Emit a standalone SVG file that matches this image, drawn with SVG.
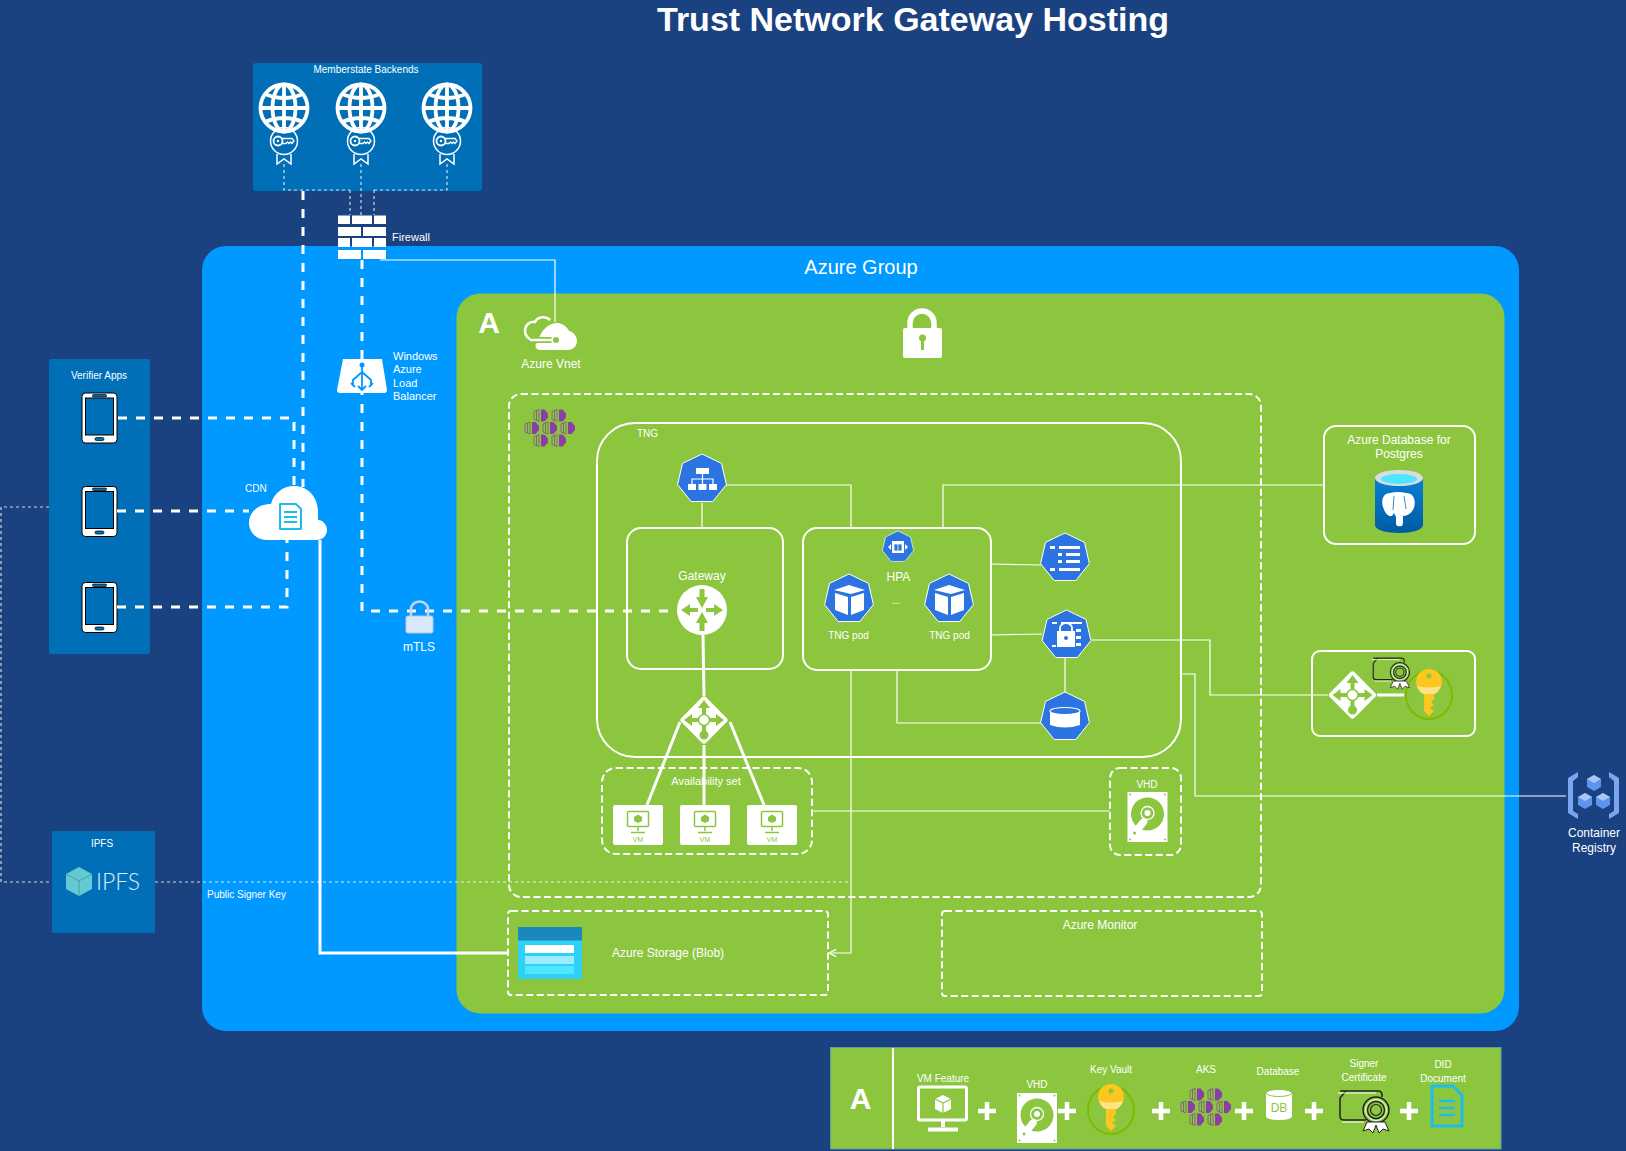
<svg xmlns="http://www.w3.org/2000/svg" xmlns:xlink="http://www.w3.org/1999/xlink" width="1626" height="1151" viewBox="0 0 1626 1151">
<style>
text{font-family:"Liberation Sans",Arial,sans-serif;fill:#fff}
.c{text-anchor:middle}
.s10{font-size:10px}.s11{font-size:11px}.s12{font-size:12px}
.box{fill:none;stroke:#fff;stroke-width:2}
.dash{fill:none;stroke:#fff;stroke-width:2;stroke-dasharray:7 3.5}
.thick{fill:none;stroke:#fff;stroke-width:3;stroke-dasharray:9 9}
.thin{fill:none;stroke:#fff;stroke-width:1.2}
.dot{fill:none;stroke:#fff;stroke-width:1.2;stroke-dasharray:3 3;stroke-opacity:.8}
.solid{fill:none;stroke:#fff;stroke-width:3}
.blue{fill:#006fb8}
.hexa{fill:#2b74e2;stroke:#fff;stroke-width:1}
.plus{fill:none;stroke:#fff;stroke-width:4.5}
</style>
<defs>
<marker id="open" markerWidth="8" markerHeight="8" refX="7" refY="4" orient="auto"><path d="M7 4L1 1M7 4L1 7" fill="none" stroke="#fff" stroke-width="1"/></marker>
<linearGradient id="pg" x1="0" y1="0" x2="0" y2="1"><stop offset="0" stop-color="#0a7fd6"/><stop offset="1" stop-color="#005ba1"/></linearGradient>
<polygon id="hep" class="hexa" points="0,-25 19.5,-15.6 24.4,5.6 10.8,22.5 -10.8,22.5 -24.4,5.6 -19.5,-15.6"/>
<g id="globe" fill="none" stroke="#fff" stroke-width="3.8">
<circle r="23.5"/><ellipse rx="11.5" ry="23.5"/><path d="M0-23.5V23.5M-23.5 0H23.5M-19-14Q0-6 19-14M-19 14Q0 6 19 14"/>
</g>
<g id="badge" fill="none" stroke="#fff" stroke-width="1.5">
<circle r="13.5"/><path d="M-7 13V23L0 18L7 23V13"/><circle cx="-6" r="4.500" stroke-width="1.800"/><circle cx="-6" r="1.200" fill="#fff" stroke="none"/><path d="M-2 -2.500H8L10 0L8 2.500L6.500 1L5 2.500L3.500 1L2 2.500H-2" stroke-width="1.300"/>
</g>
<g id="phone">
<rect x="-17.5" y="-25" width="35" height="50" rx="3.5" fill="#fff" stroke="#000" stroke-width="1"/>
<rect x="-14" y="-20" width="28" height="37" fill="#006fb8" stroke="#000" stroke-width="1"/>
<rect x="-7" y="-23.5" width="14" height="2.5" rx="1" fill="#006fb8" stroke="#000" stroke-width=".7"/>
<rect x="-4.5" y="19.5" width="9" height="3" rx="1.5" fill="#006fb8" stroke="#000" stroke-width=".7"/>
</g>
<g id="piece"><path d="M-7-4L-2-6V6L-7 4ZM-4.500-5V5" fill="none" stroke="#7f3f98" stroke-width=".7"/><path d="M0-6L3.500-6L7-2V2L3.500 6H0Z" fill="#8a3fa6"/></g>
<g id="aks">
<use xlink:href="#piece" x="-9" y="-12.5"/><use xlink:href="#piece" x="9" y="-12.5"/>
<use xlink:href="#piece" x="-18"/><use xlink:href="#piece"/><use xlink:href="#piece" x="18"/>
<use xlink:href="#piece" x="-9" y="12.5"/><use xlink:href="#piece" x="9" y="12.5"/>
</g>
<g id="diamond">
<rect x="-17.5" y="-17.5" width="35" height="35" rx="3" fill="#fff" transform="rotate(45)"/>
<g fill="#8cc63f"><path d="M0-20L-6-12H-2V-4H2V-12H6ZM-20 0L-12-6V-2H-5V2H-12V6ZM20 0L12-6V-2H5V2H12V6Z"/><rect x="-2" y="4" width="4" height="8"/><circle cy="15" r="4.5"/></g>
<circle r="5.5" fill="#fff" stroke="#8cc63f" stroke-width="1.5"/>
</g>
<g id="vm">
<rect x="-25" y="-20" width="50" height="40" rx="2" fill="#fff"/>
<g fill="none" stroke="#8cc63f" stroke-width="1.5"><rect x="-10.5" y="-13.5" width="21" height="15" rx="1"/><path d="M0 1.500V6M-7 7.500H7"/></g>
<path d="M0-10.500L4-8V-4L0-2L-4-4V-8Z" fill="#8cc63f"/>
<text y="17" class="c" style="font-size:7px;fill:#8cc63f">VM</text>
</g>
<g id="disk">
<rect x="-20" y="-25" width="40" height="50" fill="#fff"/>
<g fill="#8cc63f"><circle cx="-17.500" cy="-22.500" r="1"/><circle cx="17.500" cy="-22.500" r="1"/><circle cx="-17.500" cy="22.500" r="1"/><circle cx="17.500" cy="22.500" r="1"/></g>
<circle cx="0" cy="-3" r="16.500" fill="#8cc63f"/>
<circle cx="0" cy="-4" r="6.500" fill="none" stroke="#fff" stroke-width="1.300"/>
<circle cx="0" cy="-4" r="3" fill="#fff"/>
<path d="M-4 5L-13 16" stroke="#fff" stroke-width="7.500" stroke-linecap="round"/>
<circle cx="-13" cy="16" r="1.500" fill="#8cc63f"/>
</g>
<g id="key">
<ellipse cx="0" cy="0" rx="23" ry="24" fill="none" stroke="#7fba00" stroke-width="2"/>
<path d="M0-26C-7-26-13-21-13-13C-13-7-9-3-5-1V16L0 21L5 16L1 13L5 10L2 7L5 4V-1C9-3 13-7 13-13C13-21 7-26 0-26Z" fill="#fcc71f"/>
<path d="M-12-9Q0-6 12-9Q9-2 5-1H-5Q-9-2-12-9Z" fill="#ffe38a"/>
<circle cy="-19" r="2.500" fill="#8cc63f"/>
</g>
<g id="cert">
<path d="M-24-16H14Q18-16 18-12V-10M2 13H-20Q-24 13-24 9V-9L-18-16" fill="none" stroke="#222" stroke-width="1.500"/>
<path d="M-26-14H12M-22 15H0" fill="none" stroke="#fff" stroke-width="1"/>
<circle cx="12" cy="3" r="13" fill="none" stroke="#222" stroke-width="1.400"/>
<circle cx="12" cy="3" r="10.500" fill="none" stroke="#fff" stroke-width="1"/>
<circle cx="12" cy="3" r="8.500" fill="none" stroke="#222" stroke-width="1.400"/>
<circle cx="12" cy="3" r="5.500" fill="none" stroke="#222" stroke-width="1.200"/>
<path d="M3 15L-1 24L5 22L9 26L12 18L15 26L19 22L25 24L21 15Z" fill="#fff" stroke="#222" stroke-width="1"/>
</g>
<g id="doc"><path d="M-15-20H6L15-11V20H-15Z" fill="none" stroke="#1ebbee" stroke-width="3" stroke-linejoin="round"/><path d="M-8-5H8M-8 2H8M-8 9H8" stroke="#1ebbee" stroke-width="2.500" fill="none"/></g>
</defs>
<rect width="1626" height="1151" fill="#1a4180"/>
<rect x="202" y="246" width="1317" height="785" rx="24" fill="#0099ff"/>
<rect x="456.500" y="293.500" width="1048" height="720" rx="24" fill="#8cc63f"/>
<text x="913" y="31" class="c" style="font-size:34px;font-weight:bold">Trust Network Gateway Hosting</text>
<text x="861" y="274" class="c" style="font-size:20px">Azure Group</text>
<text x="489" y="333" class="c" style="font-size:30px;font-weight:bold">A</text>
<g id="secure-lock"><path d="M910 329V323a12 12 0 0 1 24 0v6" fill="none" stroke="#fff" stroke-width="5.500"/><rect x="903" y="328" width="39" height="30" rx="2" fill="#fff"/><circle cx="922.500" cy="338" r="3.500" fill="#8cc63f"/><rect x="921" y="338" width="3" height="12" fill="#8cc63f"/></g>

<g id="memberstate-backends">
<rect x="253" y="63" width="229" height="128" rx="3" class="blue"/>
<text x="366" y="73" class="c s10">Memberstate Backends</text>
<use xlink:href="#globe" x="284" y="108"/><use xlink:href="#globe" x="361" y="108"/><use xlink:href="#globe" x="447" y="108"/>
<use xlink:href="#badge" x="284" y="141"/><use xlink:href="#badge" x="361" y="141"/><use xlink:href="#badge" x="447" y="141"/>
</g>
<g id="verifier-apps">
<rect x="49" y="359" width="101" height="295" rx="2" class="blue"/>
<text x="99" y="379" class="c s10">Verifier Apps</text>
<use xlink:href="#phone" x="99.500" y="418"/><use xlink:href="#phone" x="99.500" y="511.500"/><use xlink:href="#phone" x="99.500" y="607.500"/>
</g>
<g id="ipfs">
<rect x="52" y="831" width="103" height="102" rx="2" class="blue"/>
<text x="102" y="847" class="c s10">IPFS</text>
<path d="M79 867L92 874V889L79 896L66 889V874Z" fill="#64c9d1"/>
<path d="M66 874L79 881L92 874M79 881V896" fill="none" stroke="#3fa4ae" stroke-width="1"/>
<text x="96" y="890" style="font-size:23px;font-family:Lato,'Open Sans',sans-serif;font-weight:300;fill:#dcecf5">IPFS</text>
</g>

<g id="connectors">
<path class="dot" d="M284 164V190H350M374 190H447V164M350 190V215M361 164V215M374 190V215"/>
<path class="thick" d="M303 191V487"/>
<path class="thick" d="M362 260V611H678"/>
<path class="thin" d="M380 260H555V322"/>
<path class="thick" d="M118 418H294V486"/>
<path class="thick" d="M117 511H249"/>
<path class="thick" d="M117 607H287V540"/>
<path class="solid" d="M320 540V953H508"/>
<path class="dot" d="M49 507H1V882H52M155 882H848"/>
<path class="thin" d="M702 503V528M726 485H851V528M943 528V485H1324"/>
<path class="thin" d="M991 564L1041 565M991 635L1042 634M1092 640H1210V695H1328M1065 658V693"/>
<path class="thin" d="M897 670V723H1041"/>
<path class="thin" d="M851 670V953H829" marker-end="url(#open)"/>
<path class="thin" d="M1181 674H1195V796H1566"/>
<path class="thin" d="M811 811H1110"/>
<path class="solid" d="M703 635L704 696M680 722L647 805M704 745V805M730 722L764 805"/>
<path class="solid" d="M1377 695H1404" stroke-width="3"/>
</g>

<g id="firewall" fill="#fff">
<rect x="338" y="215.500" width="12" height="8.500"/><rect x="352" y="215.500" width="20" height="8.500"/><rect x="374" y="215.500" width="12" height="8.500"/>
<rect x="338" y="227" width="23" height="9"/><rect x="363" y="227" width="23" height="9"/>
<rect x="338" y="238" width="12" height="9"/><rect x="352" y="238" width="20" height="9"/><rect x="374" y="238" width="12" height="9"/>
<rect x="338" y="250" width="23" height="9"/><rect x="363" y="250" width="23" height="9"/>
<text x="392" y="241" class="s11">Firewall</text>
</g>
<g id="load-balancer">
<path d="M343 359H382L387 390Q387 393 384 393H340Q337 393 337 390Z" fill="#fff"/>
<path d="M362 364V390M362 372L353 380V386M362 372L371 380V386M351 383L355 387M373 383L369 387M358 386L362 390L366 386" fill="none" stroke="#0099ff" stroke-width="1.800"/>
<circle cx="362" cy="365" r="2.500" fill="#0099ff"/>
<g class="s11"><text x="393" y="360">Windows</text><text x="393" y="373">Azure</text><text x="393" y="387">Load</text><text x="393" y="400">Balancer</text></g>
</g>
<g id="cdn">
<path d="M268 540C255 540 249 531 249 523C249 512 258 504 271 504C274 493 283 486 294 486C308 486 318 497 318 512V520C323 520 327 525 327 530C327 536 322 540 317 540Z" fill="#fff"/>
<path d="M280 504H296L301 509V529H280Z" fill="#fff" stroke="#1ebbee" stroke-width="2" stroke-linejoin="round"/>
<path d="M284 512H297M284 517H297M284 522H297" stroke="#1ebbee" stroke-width="1.800"/>
<text x="245" y="492" class="s10">CDN</text>
</g>
<g id="mtls">
<path d="M411 618V609a8.500 7.500 0 0 1 17 0v9" fill="none" stroke="#c9d6ea" stroke-width="2.500"/>
<rect x="406" y="616" width="27" height="17" rx="2" fill="#dae8fc" stroke="#b8c8de" stroke-width="1"/>
<text x="419" y="651" class="c s12">mTLS</text>
</g>
<g id="azure-vnet">
<path d="M550 320C546 316 538 316 535 322C529 321 525 326 525 331C525 336 529 340 534 340" fill="none" stroke="#fff" stroke-width="2.500"/>
<path d="M540 350C535 350 534 344 538 342C540 332 548 322 558 323C564 324 568 328 569 331C574 332 577 337 577 341C577 346 573 350 568 350Z" fill="#fff"/>
<path d="M530 340H552" stroke="#8cc63f" stroke-width="6"/><path d="M530 340H552" stroke="#fff" stroke-width="2.500"/><circle cx="556" cy="340" r="4" fill="#8cc63f" stroke="#fff" stroke-width="2"/>
<text x="551" y="368" class="c s12">Azure Vnet</text>
</g>

<g id="aks-cluster">
<rect x="509" y="394" width="752" height="503" rx="12" class="dash"/>
<use xlink:href="#aks" x="550" y="428"/>
</g>
<g id="tng"><rect x="597" y="423" width="584" height="334" rx="38" class="box"/><text x="637" y="437" class="s10">TNG</text></g>
<g id="service"><use xlink:href="#hep" x="702" y="479"/><g fill="#fff"><rect x="696" y="468" width="13" height="6"/><rect x="688" y="484" width="8" height="6"/><rect x="698.500" y="484" width="8" height="6"/><rect x="709" y="484" width="8" height="6"/></g><path d="M702.500 474V484M692 484V479H713V484" fill="none" stroke="#fff" stroke-width="1.200"/></g>
<g id="gateway">
<rect x="627" y="528" width="156" height="141" rx="14" class="box"/>
<text x="702" y="580" class="c s12">Gateway</text>
<circle cx="702" cy="610" r="25" fill="#fff"/>
<path d="M702 608L696 597H699.500V589H704.500V597H708ZM702 612L696 623H699.500V631H704.500V623H708ZM681 610L690 604V608H698V612H690V616ZM723 610L714 604V608H706V612H714V616Z" fill="#8cc63f"/>
</g>
<g id="tng-pods">
<rect x="803" y="528" width="188" height="142" rx="14" class="box"/>
<g transform="translate(898 547) scale(.64)"><use xlink:href="#hep"/></g>
<rect x="892" y="541" width="12" height="12" fill="#fff"/><path d="M894 544H902V551H894ZM898 544V551" fill="#2b74e2" stroke="#fff" stroke-width=".8"/><path d="M888 547L891 544V550ZM908 547L905 544V550Z" fill="#fff"/>
<text x="898.500" y="581" class="c s12">HPA</text>
<text x="896" y="604" class="c s11">...</text>
<use xlink:href="#hep" x="849" y="599"/><use xlink:href="#hep" x="949" y="599"/>
<g fill="#fff"><path d="M849 585L865 590L851 594L834 590ZM835 593L848 597V615L835 610ZM851 597L864 593V610L851 615Z"/><path d="M949 585L965 590L951 594L934 590ZM935 593L948 597V615L935 610ZM951 597L964 593V610L951 615Z"/></g>
<text x="848.500" y="639" class="c s10">TNG pod</text><text x="949.500" y="639" class="c s10">TNG pod</text>
</g>
<g id="configmap"><use xlink:href="#hep" x="1065" y="558"/><g fill="#fff"><rect x="1050" y="546" width="5" height="3"/><rect x="1059" y="546" width="21" height="3"/><rect x="1058" y="553" width="4" height="3"/><rect x="1066" y="553" width="14" height="3"/><rect x="1058" y="560" width="4" height="3"/><rect x="1066" y="560" width="14" height="3"/><rect x="1050" y="568" width="5" height="3"/><rect x="1059" y="568" width="21" height="3"/></g></g>
<g id="secret"><use xlink:href="#hep" x="1066.500" y="635"/><g fill="#fff"><rect x="1052" y="622" width="5" height="2"/><rect x="1061" y="622" width="21" height="2"/><rect x="1057" y="631" width="18" height="16"/><rect x="1076" y="629" width="5" height="3"/><rect x="1076" y="636" width="5" height="3"/><rect x="1076" y="643" width="5" height="3"/><rect x="1052" y="645" width="4" height="2"/></g><path d="M1060 631V628a6 5 0 0 1 12 0v3" fill="none" stroke="#fff" stroke-width="1.800"/><circle cx="1066" cy="638" r="2" fill="#2b74e2"/></g>
<g id="volume"><use xlink:href="#hep" x="1065" y="717"/><path d="M1050 711V725Q1065 730 1080 725V711Z" fill="#fff"/><ellipse cx="1065" cy="711" rx="15" ry="3.500" fill="#2b74e2" stroke="#fff" stroke-width="1.200"/></g>

<g id="load-balancer-inner"><use xlink:href="#diamond" x="704" y="720"/></g>
<g id="availability-set">
<rect x="602" y="768" width="210" height="86" rx="14" class="dash"/>
<text x="706" y="785" class="c s11">Availability set</text>
<use xlink:href="#vm" x="638" y="825"/><use xlink:href="#vm" x="705" y="825"/><use xlink:href="#vm" x="772" y="825"/>
</g>
<g id="vhd">
<rect x="1110" y="768" width="71" height="87" rx="10" class="dash"/>
<text x="1147" y="788" class="c s10">VHD</text>
<use xlink:href="#disk" x="1147.500" y="817"/>
</g>
<g id="postgres">
<rect x="1324" y="426" width="151" height="118" rx="12" class="box"/>
<text x="1399" y="444" class="c s12">Azure Database for</text><text x="1399" y="458" class="c s12">Postgres</text>
<path d="M1375 478V525C1375 530 1386 533 1399 533C1412 533 1423 530 1423 525V478Z" fill="url(#pg)"/>
<ellipse cx="1399" cy="478" rx="24" ry="8" fill="#d8dde0"/><ellipse cx="1399" cy="479" rx="18" ry="5" fill="#50e6ff"/>
<path d="M1390 493C1383 493 1381 500 1383 507C1385 513 1388 517 1392 516L1394 513L1396 517V523Q1396 527 1400 526Q1403 527 1403 522V516Q1410 516 1414 508C1416 500 1414 493 1406 493Q1398 491 1390 493Z" fill="#fff"/>
<path d="M1394 496L1393 510M1404 496L1406 509" fill="none" stroke="#0a6cbd" stroke-width=".8"/>
</g>
<g id="key-vault-group">
<rect x="1312" y="651" width="163" height="85" rx="8" class="box"/>
<use xlink:href="#diamond" x="1352.500" y="695"/>
<use xlink:href="#key" x="1429" y="695"/>
<g transform="translate(1391 670) scale(.74)"><use xlink:href="#cert"/></g>
</g>
<g id="storage">
<rect x="508" y="911" width="320" height="84" rx="3" class="dash"/>
<rect x="518" y="927" width="64" height="52" rx="1" fill="#2fd0f5"/><rect x="518" y="927" width="64" height="13.500" fill="#1a88b8"/>
<rect x="525" y="945" width="49" height="8" fill="#fff"/><rect x="525" y="956" width="49" height="8" fill="#9cebff"/><rect x="525" y="966" width="49" height="8" fill="#50e6ff"/>
<text x="612" y="957" class="s12">Azure Storage (Blob)</text>
</g>
<g id="azure-monitor"><rect x="942" y="911" width="320" height="85" rx="3" class="dash"/><text x="1100" y="929" class="c s12">Azure Monitor</text></g>
<g id="container-registry">
<path d="M1578 772L1568 778V813L1578 819V814L1573 811V781L1578 777ZM1609 772L1619 778V813L1609 819V814L1614 811V781L1609 777Z" fill="#7aa5f0"/>
<g id="cr-cubes"><path d="M1594 775L1601 779V787L1594 791L1587 787V779Z" fill="#5d94ee"/><path d="M1594 775L1601 779L1594 783L1587 779Z" fill="#a9c6f7"/><path d="M1585 793L1592 797V805L1585 809L1578 805V797Z" fill="#5d94ee"/><path d="M1585 793L1592 797L1585 801L1578 797Z" fill="#a9c6f7"/><path d="M1603 793L1610 797V805L1603 809L1596 805V797Z" fill="#5d94ee"/><path d="M1603 793L1610 797L1603 801L1596 797Z" fill="#a9c6f7"/></g>
<text x="1594" y="837" class="c s12">Container</text><text x="1594" y="852" class="c s12">Registry</text>
</g>
<text id="public-signer-key" x="207" y="898" class="s10">Public Signer Key</text>

<g id="legend">
<rect x="830.500" y="1047.500" width="670.500" height="101.500" fill="#8cc63f" stroke="#5f9ea0" stroke-width="1"/>
<path d="M893 1048V1149" stroke="#fff" stroke-width="2"/>
<text x="860.500" y="1109" class="c" style="font-size:30px;font-weight:bold">A</text>
<text x="943" y="1082" class="c s10">VM Feature</text>
<rect x="918.500" y="1087" width="48" height="33" rx="1.500" fill="none" stroke="#fff" stroke-width="3"/>
<path d="M943 1120V1127M928 1129.500H958" stroke="#fff" stroke-width="4" fill="none"/>
<path d="M943 1095L951 1099V1109L943 1113L935 1109V1099Z" fill="#fff"/><path d="M935 1099L943 1103L951 1099M943 1103V1113" stroke="#8cc63f" stroke-width="1.200" fill="none"/>
<path class="plus" d="M978 1111H996M987 1102V1120"/>
<text x="1037" y="1088" class="c s10">VHD</text>
<use xlink:href="#disk" x="1037" y="1118"/>
<path class="plus" d="M1058 1111H1076M1067 1102V1120"/>
<text x="1111" y="1073" class="c s10">Key Vault</text>
<use xlink:href="#key" x="1111" y="1110"/>
<path class="plus" d="M1152 1111H1170M1161 1102V1120"/>
<text x="1206" y="1073" class="c s10">AKS</text>
<use xlink:href="#aks" x="1206" y="1107"/>
<path class="plus" d="M1235 1111H1253M1244 1102V1120"/>
<text x="1278" y="1075" class="c s10">Database</text>
<path d="M1266 1093V1116Q1266 1120 1279 1120Q1292 1120 1292 1116V1093Z" fill="#fff"/><ellipse cx="1279" cy="1093" rx="13" ry="3.500" fill="#fff" stroke="#8cc63f" stroke-width="1"/>
<text x="1279" y="1112" class="c" style="font-size:12px;fill:#8cc63f">DB</text>
<path class="plus" d="M1305 1111H1323M1314 1102V1120"/>
<text x="1364" y="1067" class="c s10">Signer</text><text x="1364" y="1081" class="c s10">Certificate</text>
<use xlink:href="#cert" x="1364" y="1107"/>
<path class="plus" d="M1400 1111H1418M1409 1102V1120"/>
<text x="1443" y="1068" class="c s10">DID</text><text x="1443" y="1082" class="c s10">Document</text>
<use xlink:href="#doc" x="1447" y="1106"/>
</g>
</svg>
